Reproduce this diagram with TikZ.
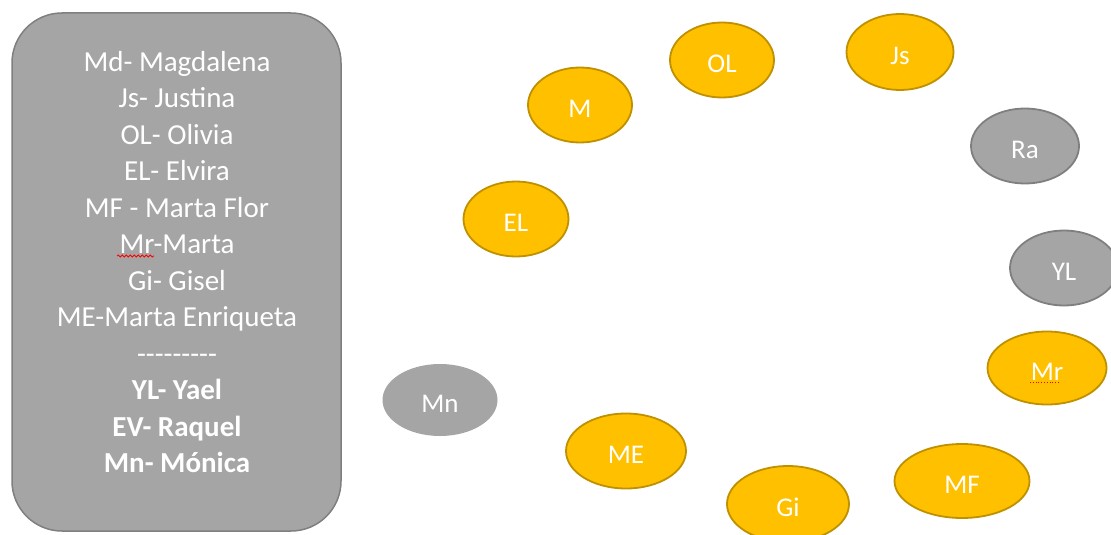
\documentclass[tikz,border=0pt]{standalone}
\usepackage{fontspec}
\setmainfont{Carlito}
\usetikzlibrary{shapes.geometric,decorations.pathmorphing}
\definecolor{oro}{HTML}{FFC000}
\definecolor{oroborde}{HTML}{BF9000}
\definecolor{gris}{HTML}{A5A5A5}
\definecolor{grisborde}{HTML}{7F7F7F}

\begin{document}
\begin{tikzpicture}[x=1pt,y=-1pt]
\tikzstyle{lista} = [draw=grisborde, line width=1.5pt, fill=gris, rounded corners=50pt, minimum width=329pt, minimum height=518pt]
\tikzstyle{chica} = [ellipse, draw=oroborde, line width=1.8pt, fill=oro, text=white, inner sep=0pt, text height=25pt, text depth=0pt, font=\fontsize{27}{27}\selectfont]
\tikzstyle{otra} = [chica, draw=grisborde, fill=gris]
\tikzstyle{marca} = [red, line width=0.8pt]

\useasboundingbox (0,0) rectangle (1111,535);

    % the list of names on the left
    \node [lista] (lista) at (176.5,272) {};
    \node [text=white, align=center, font=\fontsize{29}{36.5}\selectfont] (nombres) at (177,262)
        {Md- Magdalena\\ Js- Justina\\ OL- Olivia\\ EL- Elvira\\ MF - Marta Flor\\ Mr-Marta\\
         Gi- Gisel\\ ME-Marta Enriqueta\\ -{}-{}-{}-{}-{}-{}-{}-{}-\\ \textbf{YL- Yael}\\ \textbf{EV- Raquel}\\ \textbf{Mn- Mónica}};
    \draw [marca, decorate, decoration={snake, segment length=4pt, amplitude=1pt}] (117,256) -- (154,256);

    % the circle of chairs
    \node [chica, minimum width=104pt, minimum height=75pt] (M) at (580,105) {M};
    \node [chica, minimum width=104pt, minimum height=75pt] (OL) at (722,60) {OL};
    \node [chica, minimum width=107pt, minimum height=76pt] (Js) at (900,52) {Js};
    \node [otra, minimum width=108pt, minimum height=75pt] (Ra) at (1025,146) {Ra};
    \node [otra, minimum width=108pt, minimum height=75pt] (YL) at (1064,268) {YL};
    \node [chica, minimum width=119pt, minimum height=73pt] (Mr) at (1047,368) {Mr};
    \node [chica, minimum width=135pt, minimum height=74pt] (MF) at (962,481) {MF};
    \node [chica, minimum width=122pt, minimum height=76pt] (Gi) at (788,504) {Gi};
    \node [chica, minimum width=120pt, minimum height=75pt] (ME) at (626,451) {ME};
    \node [otra, draw=none, minimum width=115pt, minimum height=72pt] (Mn) at (440,400) {Mn};
    \node [chica, minimum width=105pt, minimum height=75pt] (EL) at (516,219) {EL};

    \draw [marca, dotted] ([xshift=-17pt,yshift=-14pt]Mr.center) -- ([xshift=13pt,yshift=-14pt]Mr.center);

\end{tikzpicture}
\end{document}
